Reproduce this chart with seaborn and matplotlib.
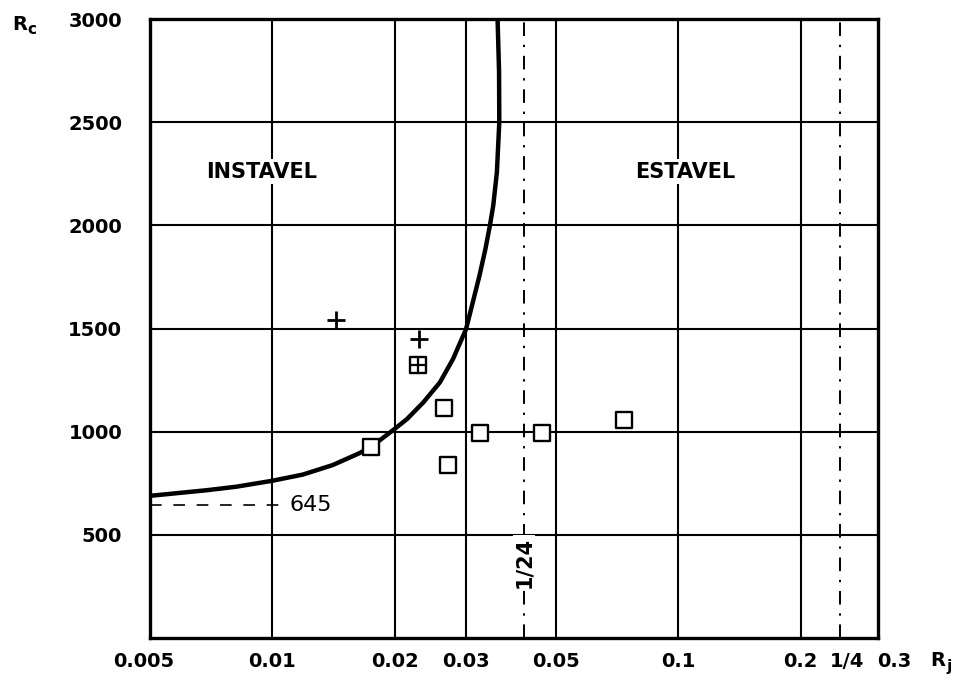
import matplotlib
matplotlib.use("Agg")
import matplotlib.pyplot as plt
import matplotlib.transforms as mtransforms
from matplotlib.ticker import NullLocator
import seaborn as sns

# ---- data ----
curve_rj = [0.005, 0.00688, 0.00814, 0.01, 0.01189, 0.01408, 0.01636, 0.0175,
            0.0185, 0.0200, 0.02146, 0.02355, 0.02587, 0.02786, 0.0300, 0.03116,
            0.03236, 0.03347, 0.03435, 0.0350, 0.03573, 0.03622, 0.03617, 0.03587]
curve_rc = [689, 716, 733, 762, 792, 838, 895, 925,
            962, 1013, 1061, 1142, 1239, 1352, 1497, 1626,
            1755, 1884, 2000, 2096, 2257, 2500, 2746, 3000]

square_rj = [0.0175, 0.0265, 0.0271, 0.0325, 0.0461, 0.0735]
square_rc = [927, 1117, 840, 993, 993, 1058]

boxplus_rj = [0.0229]
boxplus_rc = [1323]

plus_rj = [0.01434, 0.02297]
plus_rc = [1540, 1450]

xtick_vals = [0.005, 0.01, 0.02, 0.03, 0.05, 0.1, 0.2, 0.25, 0.3]
xtick_labels = ["0.005", "0.01", "0.02", "0.03", "0.05", "0.1", "0.2", "1/4", "0.3"]
ytick_vals = [500, 1000, 1500, 2000, 2500, 3000]
ytick_labels = ["500", "1000", "1500", "2000", "2500", "3000"]
grid_x = [0.01, 0.02, 0.03, 0.05, 0.1, 0.2]
grid_y = [500, 1000, 1500, 2000, 2500]
limit_lines = [1 / 24, 0.25]
asymptote_rc = 645

sns.set_theme(style="white")
plt.rcParams['font.family'] = ['DejaVu Sans']
plt.rcParams['text.color'] = 'black'
plt.rcParams['lines.solid_joinstyle'] = 'round'

fig = plt.figure(figsize=(9.63, 6.8), dpi=100)
ax = fig.add_axes([150 / 963, 1 - 638 / 680, 728 / 963, 619 / 680])
ax.set_xscale('log')
ax.set_xlim(0.005, 0.31)
ax.set_ylim(0, 3000)

for v in grid_x:
    ax.axvline(v, color='black', lw=1.5, zorder=1)
for v in grid_y:
    ax.axhline(v, color='black', lw=1.5, zorder=1)

for v in limit_lines:
    ax.axvline(v, color='black', lw=1.4, linestyle=(0, (7, 4.5, 1.2, 4.5)), zorder=1)

ax.plot([0.005, 0.0105], [asymptote_rc, asymptote_rc], color='black', lw=1.2,
        linestyle=(0, (7, 7)), zorder=1)
ax.text(0.0110, asymptote_rc, "645", ha='left', va='center', fontsize=16,
        color='black', zorder=3)

sns.lineplot(x=curve_rj, y=curve_rc, sort=False, estimator=None, color='black',
             lw=3.2, ax=ax, zorder=3)

sns.scatterplot(x=square_rj, y=square_rc, marker='s', s=135, facecolor='white',
                edgecolor='black', linewidth=1.7, ax=ax, zorder=5)
sns.scatterplot(x=boxplus_rj, y=boxplus_rc, marker='s', s=135, facecolor='white',
                edgecolor='black', linewidth=1.7, ax=ax, zorder=5)
ax.scatter(boxplus_rj, boxplus_rc, marker='+', s=135, color='black', linewidth=1.6, zorder=6)
ax.scatter(plus_rj, plus_rc, marker='+', s=150, color='black', linewidth=2.0, zorder=6)

ax.text(1 / 24, 367, "1/24", rotation=90, ha='center', va='center', fontsize=15,
        fontweight='bold', color='black',
        zorder=4, bbox=dict(facecolor='white', edgecolor='none', pad=1))
ax.text(0.0094, 2260, "INSTAVEL", ha='center', va='center', fontsize=15, fontweight='bold',
        color='black', zorder=4, bbox=dict(facecolor='white', edgecolor='none', pad=2))
ax.text(0.104, 2260, "ESTAVEL", ha='center', va='center', fontsize=15, fontweight='bold',
        color='black', zorder=4, bbox=dict(facecolor='white', edgecolor='none', pad=2))

ax.set_xticks(xtick_vals)
ax.set_xticklabels(xtick_labels, fontsize=14, fontweight='bold')
ax.xaxis.set_minor_locator(NullLocator())
ax.set_yticks(ytick_vals)
ax.set_yticklabels(ytick_labels, fontsize=14, fontweight='bold')
ax.tick_params(axis='x', length=0, pad=10, colors='black')
ax.tick_params(axis='y', length=0, pad=20, colors='black')

shifts = {0: -6, 7: 7, 8: 22}
for i, lab in enumerate(ax.get_xticklabels()):
    if i in shifts:
        lab.set_transform(lab.get_transform() +
                          mtransforms.ScaledTranslation(shifts[i] / 100, 0, fig.dpi_scale_trans))

for s in ax.spines.values():
    s.set_color('black')
    s.set_linewidth(2.4)
    s.set_zorder(7)
ax.set_facecolor('white')
ax.set_xlabel('')
ax.set_ylabel('')

fig.text(12 / 963, 1 - 24 / 680, "R", fontsize=14, fontweight='bold', va='center', ha='left')
fig.text(27 / 963, 1 - 30 / 680, "c", fontsize=11, fontweight='bold', va='center', ha='left')
fig.text(930 / 963, 1 - 660 / 680, "R", fontsize=14, fontweight='bold', va='center', ha='left')
fig.text(946 / 963, 1 - 666 / 680, "j", fontsize=11, fontweight='bold', va='center', ha='left')

fig.savefig("out.png", dpi=100, facecolor='white')
